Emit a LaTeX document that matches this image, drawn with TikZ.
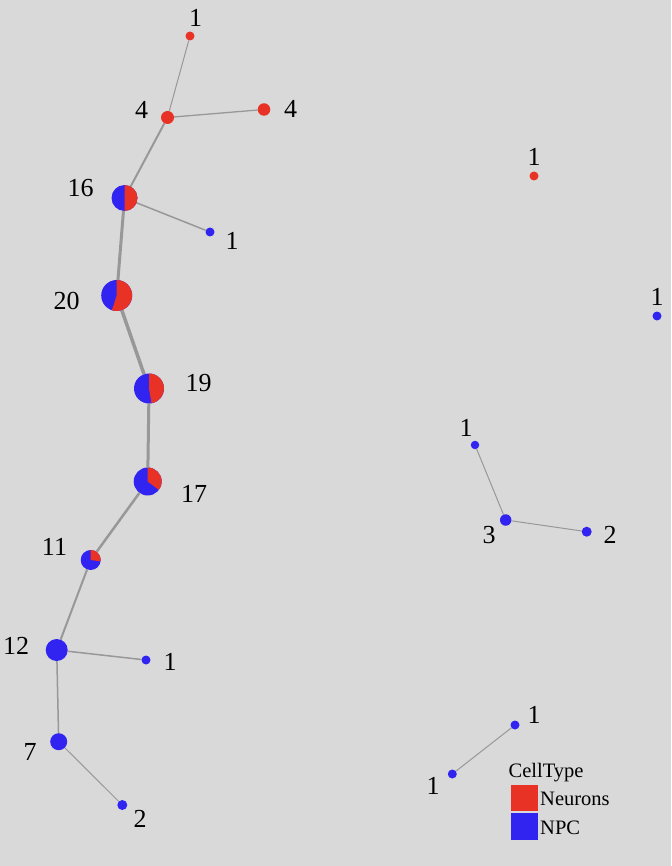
\documentclass[tikz,border=0pt]{standalone}
\usepackage{fontspec}
\setmainfont{Liberation Serif}
\definecolor{neuron}{RGB}{233,50,38}
\definecolor{npccol}{RGB}{50,36,240}
\definecolor{canvas}{RGB}{217,217,217}
\definecolor{linkgray}{RGB}{152,152,152}
\pgfdeclarelayer{bg}
\pgfsetlayers{bg,main}
\tikzset{
    vtx/.style={circle, inner sep=0pt, minimum size=#1},
    nrn/.style={vtx=#1, fill=neuron},
    npc/.style={vtx=#1, fill=npccol},
    lbl/.style={font=\fontsize{26}{30}\selectfont, inner sep=0pt},
    leg/.style={font=\fontsize{20.5}{24}\selectfont, inner sep=0pt, anchor=base west},
    link/.style={draw=linkgray, line width=#1},
}
% red share of a mixed cluster: node, radius, angle
\newcommand{\neuronpart}[3]{\fill[neuron] (#1.center) -- ++(-90:#2) arc[start angle=-90, delta angle=#3, radius=#2] -- cycle;}
\begin{document}
\begin{tikzpicture}[x=1pt,y=1pt,yscale=-1,xscale=1]
        \begin{pgfonlayer}{bg}
        \fill[canvas] (0,0) rectangle (671,866);
        \end{pgfonlayer}
        \useasboundingbox (0,0) rectangle (671,866);

        % Main tree
        \node[nrn=9] (t1) at (190,36) {};
        \node[nrn=13] (t4a) at (167.5,117.5) {};
        \node[nrn=12.5] (t4b) at (264,109.5) {};
        \node[npc=26] (t16) at (124.5,198) {};
        \neuronpart{t16}{13}{180}
        \node[npc=9] (t1b) at (210,232) {};
        \node[npc=31] (t20) at (116.7,295.5) {};
        \neuronpart{t20}{15.5}{198}
        \node[npc=30] (t19) at (149,388.5) {};
        \neuronpart{t19}{15}{170.5}
        \node[npc=28] (t17) at (147.7,481.5) {};
        \neuronpart{t17}{14}{127}
        \node[npc=20] (t11) at (90.7,560) {};
        \neuronpart{t11}{10}{98}
        \node[npc=22] (t12) at (56.7,650) {};
        \node[npc=9] (t1c) at (146,660) {};
        \node[npc=17] (t7) at (58.7,741.7) {};
        \node[npc=10] (t2) at (122.3,805) {};

        % Single clusters
        \node[nrn=9] (s1) at (534,176) {};
        \node[npc=9] (s2) at (657,316) {};

        % Small tree
        \node[npc=8.5] (u1) at (475,445) {};
        \node[npc=11.5] (u3) at (505.7,520) {};
        \node[npc=10] (u2) at (586.7,531.7) {};

        % Pair
        \node[npc=9] (p1) at (515,725) {};
        \node[npc=9] (p2) at (452.3,774) {};

        % Links
        \begin{pgfonlayer}{bg}
        \draw[link=1] (t1) -- (t4a);
        \draw[link=1.3] (t4a) -- (t4b);
        \draw[link=2] (t4a) -- (t16);
        \draw[link=1.5] (t16) -- (t1b);
        \draw[link=3] (t16) -- (t20);
        \draw[link=3.5] (t20) -- (t19);
        \draw[link=3] (t19) -- (t17);
        \draw[link=2.5] (t17) -- (t11);
        \draw[link=2] (t11) -- (t12);
        \draw[link=1.5] (t12) -- (t1c);
        \draw[link=1.5] (t12) -- (t7);
        \draw[link=1] (t7) -- (t2);
        \draw[link=1] (u1) -- (u3);
        \draw[link=1] (u3) -- (u2);
        \draw[link=1] (p1) -- (p2);
        \end{pgfonlayer}

        % Text Nodes
        \node[lbl] (l1) at (195.5,17.5) {1};
        \node[lbl] (l4a) at (141.5,109.5) {4};
        \node[lbl] (l4b) at (290.5,109) {4};
        \node[lbl] (l16) at (80.5,188) {16};
        \node[lbl] (l1b) at (232,241) {1};
        \node[lbl] (l20) at (66.5,301) {20};
        \node[lbl] (l19) at (198.5,383) {19};
        \node[lbl] (l17) at (194,494) {17};
        \node[lbl] (l11) at (54.5,547) {11};
        \node[lbl] (l12) at (16,646) {12};
        \node[lbl] (l1c) at (170,662) {1};
        \node[lbl] (l7) at (30,752) {7};
        \node[lbl] (l2) at (140,819) {2};
        \node[lbl] (ls1) at (534,157) {1};
        \node[lbl] (ls2) at (657,297) {1};
        \node[lbl] (lu1) at (466,428) {1};
        \node[lbl] (lu3) at (489,535) {3};
        \node[lbl] (lu2) at (610,535) {2};
        \node[lbl] (lp1) at (534,715) {1};
        \node[lbl] (lp2) at (433,786) {1};

        % Legend
        \node[leg] (legtitle) at (508.5,777) {CellType};
        \node[fill=neuron, minimum size=26.5, inner sep=0pt, anchor=north west] (kneuron) at (511,784.5) {};
        \node[fill=npccol, minimum size=26.5, inner sep=0pt, anchor=north west] (knpc) at (511,813) {};
        \node[leg] (tneuron) at (540,805) {Neurons};
        \node[leg] (tnpc) at (540,834) {NPC};
    \end{tikzpicture}
\end{document}
